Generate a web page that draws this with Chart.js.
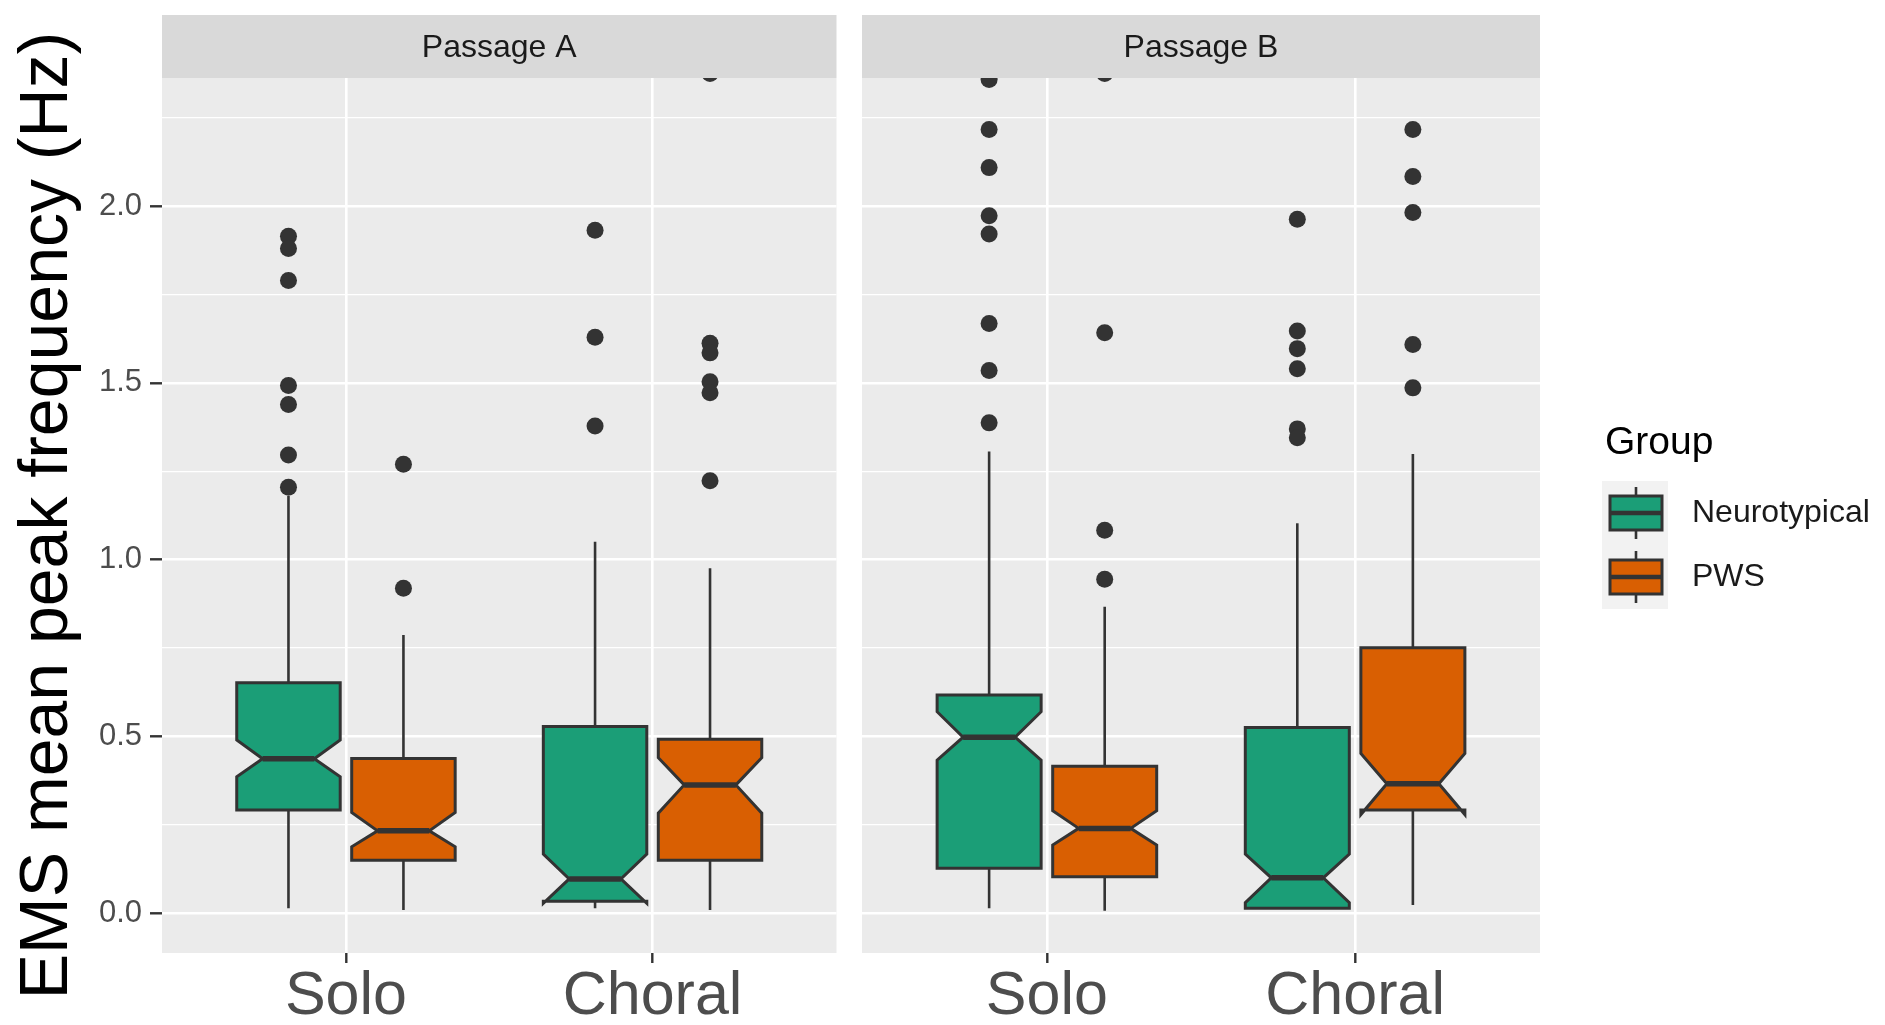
<!DOCTYPE html>
<html>
<head>
<meta charset="utf-8">
<title>EMS mean peak frequency</title>
<script src="https://cdn.jsdelivr.net/npm/chart.js@4.4.1/dist/chart.umd.min.js"></script>
<style>
    html, body { margin: 0; padding: 0; background: #ffffff; }
    #wrap { position: relative; width: 1885px; height: 1025px; overflow: hidden; }
    canvas { position: absolute; top: 0; }
    #chartA { left: 0; }
    #chartB { left: 845px; }
</style>
</head>
<body>
<div id="wrap">
    <canvas id="chartA" width="845" height="1025"></canvas>
    <canvas id="chartB" width="1040" height="1025"></canvas>
</div>
<script>
const FONT = "'Liberation Sans', Arial, Helvetica, sans-serif";

const passages = ['Passage A', 'Passage B'];
const conditions = ['Solo', 'Choral'];
const groups = ['Neurotypical', 'PWS'];
const groupColors = ['#1B9E77', '#D95F02'];

const yMajor = [0, 0.5, 1.0, 1.5, 2.0];
const yMinor = [0.25, 0.75, 1.25, 1.75, 2.25];
const yLabels = ['0.0', '0.5', '1.0', '1.5', '2.0'];
const yLimits = [-0.1125, 2.3625];

// box stats: [lower whisker, Q1, notch low, median, notch high, Q3, upper whisker]
const statsA_Solo_NT = [0.014, 0.292, 0.386, 0.437, 0.490, 0.652, 1.180];
const statsA_Solo_PWS = [0.009, 0.150, 0.188, 0.233, 0.285, 0.438, 0.787];
const statsA_Choral_NT = [0.014, 0.034, 0.028, 0.097, 0.167, 0.528, 1.051];
const statsA_Choral_PWS = [0.009, 0.150, 0.283, 0.363, 0.440, 0.492, 0.976];
const statsB_Solo_NT = [0.014, 0.127, 0.433, 0.498, 0.570, 0.617, 1.306];
const statsB_Solo_PWS = [0.007, 0.103, 0.193, 0.240, 0.290, 0.416, 0.867];
const statsB_Choral_NT = [0.014, 0.014, 0.030, 0.100, 0.167, 0.525, 1.103];
const statsB_Choral_PWS = [0.023, 0.292, 0.279, 0.366, 0.452, 0.751, 1.299];

// outliers
const outA_Solo_NT = [1.915, 1.880, 1.790, 1.493, 1.439, 1.296, 1.205];
const outA_Solo_PWS = [1.270, 0.919];
const outA_Choral_NT = [1.932, 1.629, 1.378];
const outA_Choral_PWS = [2.375, 1.612, 1.585, 1.503, 1.472, 1.223];
const outB_Solo_NT = [2.358, 2.217, 2.109, 1.973, 1.921, 1.668, 1.535, 1.387];
const outB_Solo_PWS = [2.375, 1.642, 1.083, 0.945];
const outB_Choral_NT = [1.963, 1.647, 1.597, 1.540, 1.370, 1.345];
const outB_Choral_PWS = [2.217, 2.084, 1.982, 1.609, 1.486];

// [condition][group]
const boxStats = [
    [[statsA_Solo_NT, statsA_Solo_PWS], [statsA_Choral_NT, statsA_Choral_PWS]],
    [[statsB_Solo_NT, statsB_Solo_PWS], [statsB_Choral_NT, statsB_Choral_PWS]]
];
const outliers = [
    [[outA_Solo_NT, outA_Solo_PWS], [outA_Choral_NT, outA_Choral_PWS]],
    [[outB_Solo_NT, outB_Solo_PWS], [outB_Choral_NT, outB_Choral_PWS]]
];

const DODGE = 0.1875;   // ggplot dodge 0.75 / 4
const BOX_W = 0.3375;   // 0.9 * 0.75 / 2
const INK = '#333333';

const groupX = (ci, gi) => ci + 1 + (gi === 0 ? -DODGE : DODGE);

// grey panel + facet strip
const facetStrip = {
    id: 'facet_strip',
    beforeDraw: (chart, args, options) => {
        const { ctx, chartArea } = chart;
        ctx.save();
        ctx.fillStyle = '#EBEBEB';
        ctx.fillRect(chartArea.left, chartArea.top, chartArea.width, chartArea.height);
        ctx.fillStyle = '#D9D9D9';
        ctx.fillRect(chartArea.left, chartArea.top - options.height, chartArea.width, options.height);
        ctx.fillStyle = '#1A1A1A';
        ctx.font = `32px ${FONT}`;
        ctx.textAlign = 'center';
        ctx.textBaseline = 'middle';
        ctx.fillText(options.text, (chartArea.left + chartArea.right) / 2, chartArea.top - options.height / 2 + 2);
        ctx.restore();
    }
};

// notched boxes, drawn like ggplot's geom_boxplot(notch = TRUE)
const notchedBoxes = {
    id: 'notched_boxes',
    beforeDatasetsDraw: (chart, args, options) => {
        const { ctx, chartArea, scales: { x, y } } = chart;
        const stats = boxStats[options.passage];
        ctx.save();
        ctx.beginPath();
        ctx.rect(chartArea.left, chartArea.top, chartArea.width, chartArea.height);
        ctx.clip();
        ctx.strokeStyle = INK;
        ctx.lineJoin = 'miter';
        stats.forEach((pair, ci) => {
            pair.forEach((s, gi) => {
                const [wLo, q1, nLo, med, nHi, q3, wHi] = s;
                const xc = groupX(ci, gi);
                const cx = x.getPixelForValue(xc);
                const x0 = x.getPixelForValue(xc - BOX_W / 2);
                const x1 = x.getPixelForValue(xc + BOX_W / 2);
                const ind = (x1 - x0) / 4;

                // whiskers
                ctx.lineWidth = 2.6;
                ctx.beginPath();
                ctx.moveTo(cx, y.getPixelForValue(wHi));
                ctx.lineTo(cx, y.getPixelForValue(q3));
                ctx.moveTo(cx, y.getPixelForValue(q1));
                ctx.lineTo(cx, y.getPixelForValue(wLo));
                ctx.stroke();

                // box outline with notch
                const pts = [[x0, q3], [x0, nHi], [x0 + ind, med], [x0, nLo], [x0, q1],
                             [x1, q1], [x1, nLo], [x1 - ind, med], [x1, nHi], [x1, q3]];
                ctx.beginPath();
                pts.forEach(([px, v], i) => {
                    const py = y.getPixelForValue(v);
                    if (i === 0) ctx.moveTo(px, py); else ctx.lineTo(px, py);
                });
                ctx.closePath();
                ctx.fillStyle = groupColors[gi];
                ctx.fill();
                ctx.lineWidth = 3;
                ctx.stroke();

                // median
                const ym = y.getPixelForValue(med);
                ctx.lineWidth = 5.5;
                ctx.beginPath();
                ctx.moveTo(x0 + ind, ym);
                ctx.lineTo(x1 - ind, ym);
                ctx.stroke();
            });
        });
        ctx.restore();
    }
};

// legend to the right of panel B
const groupLegend = {
    id: 'group_legend',
    afterDraw: (chart, args, options) => {
        if (!options.show) return;
        const { ctx, chartArea } = chart;
        const left = chartArea.right;
        ctx.save();
        ctx.fillStyle = '#000000';
        ctx.font = `39px ${FONT}`;
        ctx.textAlign = 'left';
        ctx.textBaseline = 'alphabetic';
        ctx.fillText('Group', left + 65, 454);

        groups.forEach((g, gi) => {
            const cy = options.rows[gi];
            ctx.fillStyle = '#F2F2F2';
            ctx.fillRect(left + 62, cy - 32, 66, 64);
            const bx0 = left + 70, bx1 = left + 122, bc = (bx0 + bx1) / 2;
            ctx.strokeStyle = INK;
            ctx.lineWidth = 2.6;
            ctx.beginPath();
            ctx.moveTo(bc, cy - 26); ctx.lineTo(bc, cy - 17);
            ctx.moveTo(bc, cy + 17); ctx.lineTo(bc, cy + 26);
            ctx.stroke();
            ctx.fillStyle = groupColors[gi];
            ctx.fillRect(bx0, cy - 17, bx1 - bx0, 34);
            ctx.lineWidth = 3;
            ctx.strokeRect(bx0, cy - 17, bx1 - bx0, 34);
            ctx.lineWidth = 4.5;
            ctx.beginPath();
            ctx.moveTo(bx0, cy); ctx.lineTo(bx1, cy);
            ctx.stroke();

            ctx.fillStyle = '#1A1A1A';
            ctx.font = `32px ${FONT}`;
            ctx.textBaseline = 'middle';
            ctx.fillText(g, left + 152, cy);
        });
        ctx.restore();
    }
};

function makePanel(canvasId, p) {
    const first = p === 0;
    const datasets = groups.map((g, gi) => ({
        label: g,
        data: conditions.flatMap((c, ci) => outliers[p][ci][gi].map(v => ({ x: groupX(ci, gi), y: v }))),
        backgroundColor: INK,
        borderWidth: 0,
        pointRadius: 8.5,
        pointHoverRadius: 8.5,
        clip: 0
    }));

    return new Chart(document.getElementById(canvasId), {
        type: 'scatter',
        data: { datasets },
        plugins: [facetStrip, notchedBoxes, groupLegend],
        options: {
            responsive: false,
            animation: false,
            events: [],
            layout: { padding: first ? { top: 78, left: 0, right: 5, bottom: 0 } : { top: 78, left: 17, right: 345, bottom: 0 } },
            scales: {
                x: {
                    type: 'linear',
                    min: 0.4,
                    max: 2.6,
                    afterBuildTicks: s => { s.ticks = conditions.map((c, i) => ({ value: i + 1 })); },
                    afterFit: s => { s.height = 72; },
                    border: { display: false },
                    grid: { color: '#FFFFFF', lineWidth: 2.6, tickLength: 10, tickColor: INK, tickWidth: 2.4 },
                    ticks: {
                        autoSkip: false,
                        maxRotation: 0,
                        padding: 4,
                        color: '#4D4D4D',
                        font: { family: FONT, size: 61, lineHeight: 1.0 },
                        callback: v => conditions[Math.round(v) - 1]
                    }
                },
                y: {
                    type: 'linear',
                    min: yLimits[0],
                    max: yLimits[1],
                    afterBuildTicks: s => {
                        s.ticks = [...yMajor, ...yMinor].sort((a, b) => a - b).map(v => ({ value: v }));
                    },
                    afterFit: s => { s.width = first ? 162 : 0; },
                    border: { display: false },
                    grid: {
                        color: '#FFFFFF',
                        lineWidth: c => (yMajor.includes(c.tick.value) ? 2.6 : 1.3),
                        drawTicks: first,
                        tickLength: 12,
                        tickWidth: 2.4,
                        tickColor: c => (yMajor.includes(c.tick.value) ? INK : 'rgba(0,0,0,0)')
                    },
                    ticks: {
                        display: first,
                        autoSkip: false,
                        padding: 8,
                        color: '#4D4D4D',
                        font: { family: FONT, size: 31 },
                        callback: v => {
                            const i = yMajor.indexOf(v);
                            return i >= 0 ? yLabels[i] : '';
                        }
                    },
                    title: {
                        display: first,
                        text: 'EMS mean peak frequency (Hz)',
                        color: '#000000',
                        font: { family: FONT, size: 68 },
                        padding: { top: 7, bottom: 0 }
                    }
                }
            },
            plugins: {
                legend: { display: false },
                tooltip: { enabled: false },
                facet_strip: { text: passages[p], height: 63 },
                notched_boxes: { passage: p },
                group_legend: { show: !first, rows: [513, 577] }
            }
        }
    });
}

makePanel('chartA', 0);
makePanel('chartB', 1);
</script>
</body>
</html>
